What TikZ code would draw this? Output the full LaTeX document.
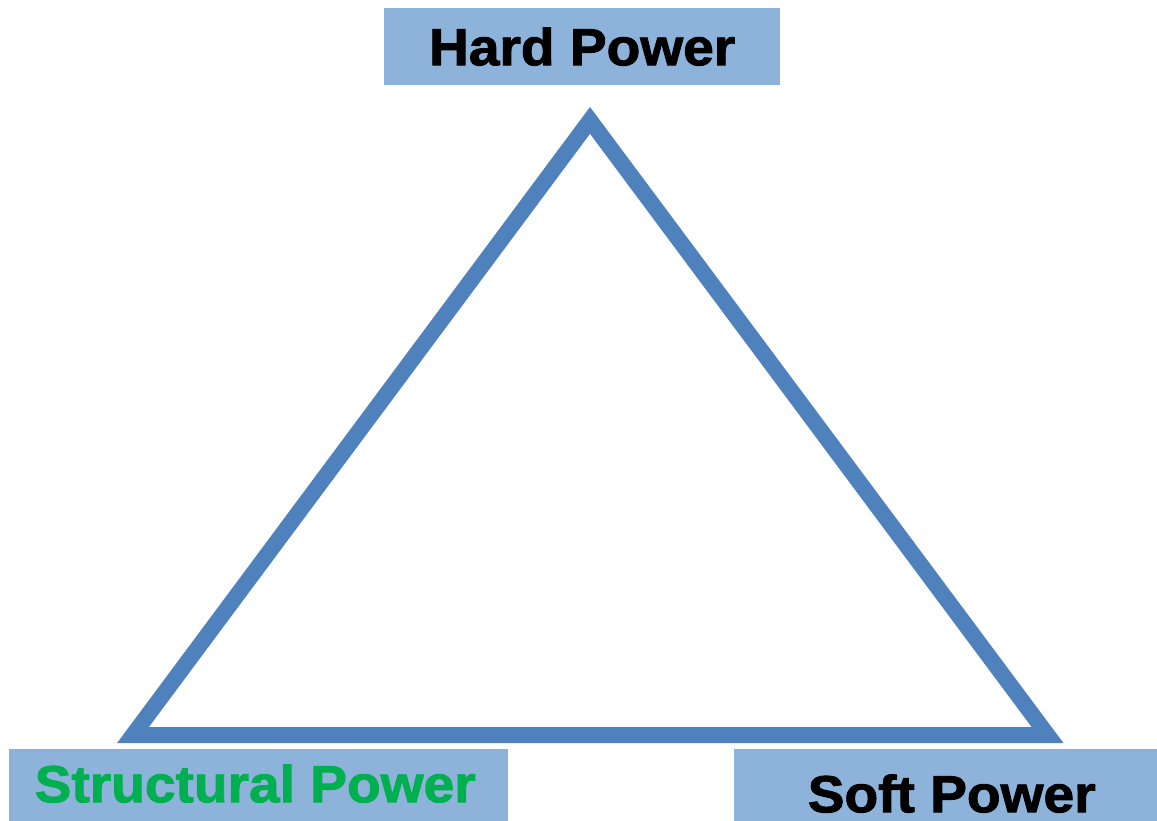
\documentclass[tikz,border=0pt]{standalone}
\usepackage{fontspec}
\newfontfamily\heavyfont[FakeBold=1.8,FakeStretch=1.06]{Liberation Sans Bold}
\definecolor{boxblue}{HTML}{8DB3DA}
\definecolor{triblue}{HTML}{4F81BD}
\definecolor{powergreen}{HTML}{00B050}
\begin{document}
\begin{tikzpicture}[x=1pt,y=-1pt,
  labelbox/.style={fill=boxblue,inner sep=0pt,anchor=north west,font=\heavyfont\fontsize{52}{60}\selectfont}]
\useasboundingbox (0,0) rectangle (1157,821);
\coordinate (apex) at (590,120.4);
\coordinate (bl) at (133,735);
\coordinate (br) at (1047.5,735);
\draw[triblue,line width=16pt,line join=miter] (apex) -- (bl) -- (br) -- cycle;
\node[labelbox,minimum width=396pt,text height=57pt,text depth=20pt] (hard) at (384,8) {Hard Power};
\node[labelbox,minimum width=499pt,text height=53pt,text depth=19pt,text=powergreen] (struct) at (9,749) {\hspace*{-7pt}Structural Power};
\node[labelbox,minimum width=423pt,text height=63pt,text depth=9pt] (soft) at (734,749) {\hspace*{12pt}Soft Power};
\end{tikzpicture}
\end{document}
